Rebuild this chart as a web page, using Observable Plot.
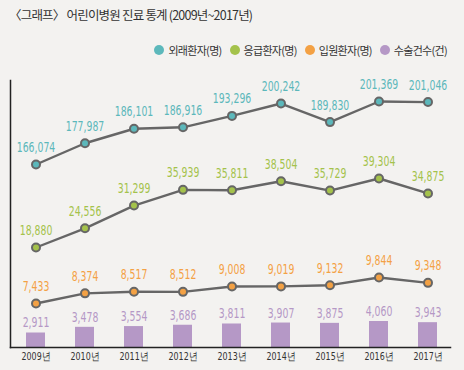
<!DOCTYPE html>
<html>
<head>
<meta charset="utf-8">
<script src="https://cdn.jsdelivr.net/npm/d3@7"></script>
<script src="https://cdn.jsdelivr.net/npm/@observablehq/plot@0.6"></script>
<style>
  body { margin:0; background:#f3f2f0; width:464px; height:370px; overflow:hidden; }
  #title { height:40px; line-height:30px; padding-left:9px; font-family:"Noto Sans CJK KR", sans-serif; font-size:12.5px; letter-spacing:-0.8px; color:#333; box-sizing:border-box; }
  #legend { height:20px; display:flex; justify-content:flex-end; align-items:center; padding-right:17px; font-family:"Noto Sans CJK KR", sans-serif; font-size:11px; letter-spacing:-0.7px; color:#333; }
  #legend .item { display:flex; align-items:center; margin-left:8px; }
  #legend .sw { width:10px; height:10px; border-radius:50%; margin-right:4px; }
  #chart svg { display:block; }
</style>
</head>
<body>
<div id="title">〈그래프〉 어린이병원 진료 통계 (2009년~2017년)</div>
<div id="legend"></div>
<div id="chart"></div>
<script>
// ---- data ----
const years = ["2009","2010","2011","2012","2013","2014","2015","2016","2017"];
const outpatient = [166074,177987,186101,186916,193296,200242,189830,201369,201046];
const emergency  = [18880,24556,31299,35939,35811,38504,35729,39304,34875];
const inpatient  = [7433,8374,8517,8512,9008,9019,9132,9844,9348];
const surgeries  = [2911,3478,3554,3686,3811,3907,3875,4060,3943];
const seriesNames = ["외래환자(명)","응급환자(명)","입원환자(명)","수술건수(건)"];
const yearSuffix = "년";

// ---- layout / style (broken-axis bands, in y-scale units above the baseline) ----
const colors = ["#5cb8bb","#a4c24b","#f3a144","#b598c6"];
const bands = [
  {domain:[166074,201369], range:[183,246]},
  {domain:[18880,39304],  range:[100,169]},
  {domain:[7433,9844],    range:[44,70]},
  {domain:[2911,4060],    range:[14.5,26]}
];
const allSeries = [outpatient, emergency, inpatient, surgeries];

const rows = allSeries.map((vals, s) => {
  const sc = d3.scaleLinear().domain(bands[s].domain).range(bands[s].range);
  return vals.map((v, i) => ({series: seriesNames[s], year: years[i], value: v, pos: sc(v), color: colors[s]}));
});
const lineRows = rows.slice(0,3).flat();
const barRows = rows[3];

// legend
const leg = document.getElementById("legend");
seriesNames.forEach((n, i) => {
  const it = document.createElement("div");
  it.className = "item";
  it.innerHTML = `<span class="sw" style="background:${colors[i]}"></span><span>${n}</span>`;
  leg.appendChild(it);
});

const numFont = '"Liberation Sans Narrow","DejaVu Sans Condensed","Liberation Sans",sans-serif';
const fmt = d3.format(",");

const chart = Plot.plot({
  width: 464,
  height: 310,
  marginTop: 20,
  marginBottom: 23,
  marginLeft: 10,
  marginRight: 14,
  style: {background: "transparent", fontFamily: numFont},
  x: {type: "band", domain: years, paddingInner: 0.62, paddingOuter: 0.2545, align: 0.55, label: null},
  y: {domain: [0, 267], axis: null},
  marks: [
    Plot.barY(barRows, {x: "year", y1: 0, y2: "pos", fill: colors[3]}),
    Plot.frame({anchor: "left", stroke: "#222", strokeWidth: 1.5}),
    Plot.frame({anchor: "bottom", stroke: "#222", strokeWidth: 1.5}),
    Plot.line(lineRows, {x: "year", y: "pos", z: "series", stroke: "#666", strokeWidth: 2.4}),
    Plot.dot(lineRows, {x: "year", y: "pos", r: 4, fill: "color", stroke: "#666", strokeWidth: 2}),
    Plot.text(lineRows, {x: "year", y: "pos", text: d => fmt(d.value), fill: "color", dy: -17, fontSize: 14, fontFamily: numFont}),
    Plot.text(barRows, {x: "year", y: "pos", text: d => fmt(d.value), fill: "color", dy: -10, fontSize: 14, fontFamily: numFont}),
    Plot.axisX({tickSize: 0, tickPadding: 5, tickFormat: d => d + yearSuffix, fontSize: 11, fill: "#333", label: null})
  ]
});
document.getElementById("chart").appendChild(chart);

// condensed look of the original typeface
function condense(sel, k) {
  chart.querySelectorAll(sel).forEach(t => {
    const w = t.getComputedTextLength();
    t.setAttribute("textLength", w * k);
    t.setAttribute("lengthAdjust", "spacingAndGlyphs");
  });
}
condense('g[aria-label="text"] text', 0.74);
condense('g[aria-label="x-axis tick label"] text', 0.8);
</script>
</body>
</html>
